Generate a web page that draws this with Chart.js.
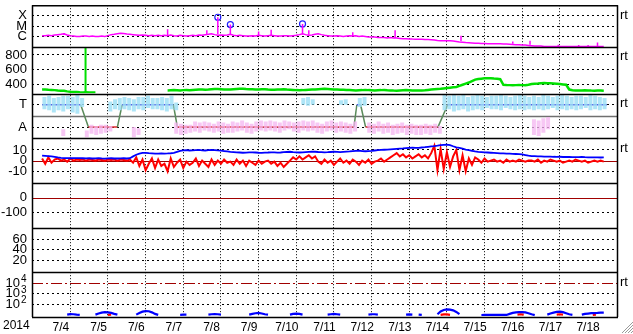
<!DOCTYPE html>
<html><head><meta charset="utf-8">
<script src="https://cdn.jsdelivr.net/npm/chart.js@4.4.1/dist/chart.umd.min.js"></script>
<style>html,body{margin:0;padding:0;background:#fff;overflow:hidden}#wrap{width:633px;height:334px;position:relative}canvas{display:block}</style>
</head><body><div id="wrap"><canvas id="c" width="633" height="334"></canvas></div>
<script>
// ---------- DATA ----------
const yearLabel = '2014';
const dayLabels = ['7/4','7/5','7/6','7/7','7/8','7/9','7/10','7/11','7/12','7/13','7/14','7/15','7/16','7/17','7/18'];
const spanHours = 360;           // 2014-07-04 00UT .. 07-19 00UT

// X-ray flux, 2-hourly, in units of C1 (1e-6 W/m2)
const xrayFlux = [
 1.2,1.2,1.3,1.2,1.4,1.5,1.6,1.8,1.4,1.2,1.1,1.0,
 1.0,1.1,1.1,1.0,1.1,1.0,1.0,1.1,1.0,1.2,1.5,1.6,
 1.8,2.0,1.9,1.7,1.6,1.5,1.4,1.3,1.4,1.3,1.2,1.3,
 1.2,1.3,1.2,1.3,1.2,1.4,1.2,1.1,1.3,1.2,1.1,1.2,
 1.3,1.2,1.4,1.3,1.5,1.6,1.8,1.5,1.3,1.4,1.3,1.4,
 1.6,1.3,1.2,1.3,1.2,1.1,1.1,1.2,1.1,1.3,1.2,1.1,
 1.2,1.3,1.2,1.1,1.1,1.2,1.2,1.1,1.2,1.3,1.5,1.8,
 1.5,1.3,1.4,1.6,1.8,1.5,1.3,1.2,1.1,1.1,1.2,1.1,
 1.0,1.1,1.2,1.1,1.2,1.0,1.1,1.0,0.9,0.9,0.9,0.8,
 0.8,0.8,0.7,0.8,0.7,0.7,0.65,0.6,0.6,0.58,0.56,0.55,
 0.55,0.54,0.52,0.5,0.48,0.45,0.42,0.4,0.4,0.39,0.38,0.36,
 0.33,0.3,0.28,0.26,0.25,0.24,0.23,0.22,0.21,0.21,0.2,0.2,
 0.2,0.2,0.2,0.19,0.19,0.18,0.17,0.16,0.16,0.15,0.15,0.14,
 0.13,0.12,0.12,0.12,0.11,0.11,0.11,0.11,0.11,0.11,0.11,0.11,
 0.11,0.11,0.11,0.11,0.11,0.11,0.11,0.11,0.11,0.11,0.11,0.11
];
// short flare spikes: [hour, pre-flare flux, peak flux] (C1 units)
const flareSpikes = [
 [14,1.4,2.2],[80,1.2,5],[105,1.4,4],[112,1.6,70],[120,1.5,14],[138,1.1,3],[146,1.1,4.5],
 [166,1.6,16],[170,1.5,4],[198,1.1,2.5],[225,0.7,4],[267,0.35,1.2],[300,0.2,0.33],
 [311,0.16,0.4],[329,0.11,0.16],[342,0.11,0.15],[348,0.11,0.15],[354,0.11,0.27]
];
// flare events marked with a circle: [hour, peak flux]
const flareMarks = [[112,70],[120,14],[166,16]];

// solar wind speed km/s, 2-hourly
const windSpeed = [
 330,332,328,325,322,318,315,312,305,300,298,295,
 292,290,292,290,289,290,null,null,null,null,null,null,
 null,null,null,null,null,null,null,null,null,null,null,null,
 null,null,null,null,318,320,322,320,318,322,325,322,
 325,328,330,332,328,330,335,338,336,334,332,330,
 332,335,338,340,342,338,335,333,330,332,335,333,
 330,328,326,330,332,335,330,328,325,322,320,322,
 325,328,330,332,335,338,340,338,335,332,330,328,
 326,324,322,320,318,320,322,325,322,320,318,320,
 322,325,320,318,316,315,318,320,322,320,318,317,
 317,318,320,325,330,335,338,340,345,350,355,360,
 365,380,395,410,425,445,465,472,478,482,485,483,
 480,478,470,395,392,390,388,390,392,390,388,395,
 405,410,412,415,418,416,414,412,410,405,400,395,
 330,320,318,316,318,320,318,316,315,318,316,314
];
const windSpike = [27.7, 292, 1000];   // [hour, from, to]

// IMF sector: +1 = Toward, -1 = Away
const sectorHours = [0,24.6,29.5,48,51,83.7,86.2,198.8,200.6,203,206.2,252.3,258.5,360];
const sectorSign  = [1,1,-1,-1,1,1,-1,-1,1,1,-1,-1,1,1];
// IMF direction spread, 3-hourly, sector units
const towardLow = [
 0.6,0.5,0.3,0.5,0.4,0.6,0.3,0.2,  0.8,null,null,null,null,null,0.4,0.6,
 0.5,0.6,0.5,0.4,0.6,0.5,0.7,0.6,  0.6,0.5,0.4,0.6,0.5,null,null,null,
 null,null,null,null,null,null,null,null,  null,null,null,null,null,null,null,null,
 null,null,null,null,null,null,null,1.0,  0.9,1.0,null,null,null,null,null,1.0,
 1.0,null,null,0.8,0.9,null,null,null,  null,null,null,null,null,null,null,null,
 null,null,null,null,null,0.5,0.6,0.4,  0.5,0.6,0.4,0.5,0.6,0.5,0.7,0.6,
 0.6,0.5,0.7,0.6,0.5,0.6,0.5,0.6,  0.5,0.6,0.5,0.6,0.7,0.5,0.6,0.5,
 0.6,0.5,0.6,0.7,0.5,0.6,0.5,0.6
];
const towardHigh = [
 1.7,1.8,1.6,1.7,1.8,1.8,1.7,1.9,  1.6,null,null,null,null,null,1.3,1.5,
 1.6,1.7,1.6,1.5,1.7,1.7,1.8,1.6,  1.6,1.7,1.6,1.8,1.2,null,null,null,
 null,null,null,null,null,null,null,null,  null,null,null,null,null,null,null,null,
 null,null,null,null,null,null,null,1.6,  1.7,1.5,null,null,null,null,null,1.4,
 1.5,null,null,1.6,1.7,null,null,null,  null,null,null,null,null,null,null,null,
 null,null,null,null,null,1.9,1.8,1.9,  1.8,1.9,1.7,1.8,1.9,1.8,1.7,1.8,
 1.8,1.9,1.8,1.7,1.8,1.9,1.8,1.7,  1.8,1.7,1.9,1.8,1.7,1.8,1.9,1.8,
 1.7,1.8,1.8,1.7,1.9,1.8,1.7,1.6
];
const awayLow = [
 null,null,null,null,-1.8,null,null,null,  null,-1.9,-1.6,-1.7,-1.6,-1.5,-1.4,null,
 null,null,null,-1.9,-1.7,null,null,null,  null,null,null,null,-1.6,-1.7,-1.6,-1.5,
 -1.4,-1.5,-1.3,-1.4,-1.5,-1.4,-1.6,-1.5,  -1.5,-1.4,-1.3,-1.5,-1.6,-1.4,-1.3,-1.4,
 -1.3,-1.4,-1.5,-1.3,-1.2,-1.4,-1.5,-1.3,  -1.4,-1.3,-1.5,-1.6,-1.4,-1.3,-1.5,-1.4,
 -1.5,-1.6,-1.4,null,null,-1.5,-1.6,-1.4,  -1.6,-1.5,-1.7,-1.6,-1.5,-1.7,-1.6,-1.7,
 -1.7,-1.6,-1.7,-1.5,-1.6,null,null,null,  null,null,null,null,null,null,null,null,
 null,null,null,null,null,null,null,null,  -1.7,-1.8,-1.5,-1.2,null,null,null,null,
 null,null,null,null,null,null,null,null
];
const awayHigh = [
 null,null,null,null,-1.2,null,null,null,  null,-1.3,-0.8,-0.9,-0.8,-0.8,-0.9,null,
 null,null,null,-1.0,-1.1,null,null,null,  null,null,null,null,-0.6,-0.7,-0.8,-0.8,
 -0.5,-0.6,-0.5,-0.6,-0.7,-0.5,-0.6,-0.7,  -0.5,-0.6,-0.4,-0.6,-0.7,-0.5,-0.4,-0.5,
 -0.4,-0.5,-0.6,-0.4,-0.5,-0.6,-0.5,-0.4,  -0.5,-0.4,-0.6,-0.7,-0.5,-0.4,-0.6,-0.5,
 -0.6,-0.7,-0.5,null,null,-0.6,-0.7,-0.5,  -0.7,-0.6,-0.8,-0.7,-0.6,-0.8,-0.7,-0.8,
 -0.8,-0.7,-0.8,-0.7,-0.9,null,null,null,  null,null,null,null,null,null,null,null,
 null,null,null,null,null,null,null,null,  -0.3,-0.4,-0.2,-0.1,null,null,null,null,
 null,null,null,null,null,null,null,null
];

// IMF |B| and Bz (nT), 2-hourly
const imfBt = [
 4.6,4.4,4.2,4.0,3.5,3.0,2.6,2.4,2.3,2.2,2.3,2.4,
 2.3,2.2,2.1,2.2,2.0,2.1,2.2,2.0,1.9,2.1,2.2,2.0,
 2.0,2.1,2.2,2.0,2.3,4.0,5.5,6.5,7.2,7.3,7.0,6.8,
 6.6,6.5,6.8,6.6,6.7,6.9,7.2,8.2,9.2,9.6,9.8,9.5,
 9.6,9.8,10,9.7,9.5,9.8,10.1,9.9,9.6,9.4,9.0,8.6,
 8.2,8.0,7.8,7.6,7.4,7.5,7.7,7.8,7.6,7.4,7.3,7.5,
 7.6,7.8,7.7,7.5,7.6,7.9,8.1,8.3,8.0,7.8,7.6,7.8,
 8.0,8.2,8.4,8.3,8.1,8.0,7.8,7.9,8.1,8.3,8.2,8.0,
 8.2,8.4,8.6,8.9,9.1,9.3,9.0,8.8,9.0,9.2,9.5,9.8,
 10,10.2,10.4,10.6,10.8,11,11.2,11.4,11.8,12,12.2,12.0,
 12,12.3,12.6,13,13.4,13.6,14,14.5,14.8,15,14.6,13.5,
 12.5,12,11.2,10.4,9.8,9.2,8.6,8.2,8.0,7.8,7.6,7.4,
 7.2,7.0,6.8,6.8,6.6,6.5,6.4,6.2,6.0,5.8,5.2,4.6,
 4.3,4.2,4.0,3.9,3.8,3.7,3.8,3.6,3.5,3.6,3.4,3.5,
 3.4,3.3,3.2,3.3,3.4,3.2,3.1,3.0,3.1,3.0,2.9,3.0
];
const imfBz = [
 2,-3,3,-2,1,2,0,1,-1,2,0,1,
 0.5,1,0,1,0.5,0,1,0.5,0,1,0.5,1,
 0,1,0.5,0,1,-2,3,-5,1,-9,-3,2,
 -7,1,-5,-3,-10,2,-6,-2,1,-7,-1,-4,
 -2,2,-5,0,-3,-6,1,-4,0,-3,1,-2,
 -1,-4,1,-3,0,-5,0,-2,-4,0,-3,-1,
 0,-3,-1,-5,-2,-6,-3,0,3,1,4,1,
 3,5,2,4,-1,-3,1,-2,0,-4,-1,2,
 -2,0,-3,1,-1,-4,0,-2,1,-3,-1,0,
 2,-1,1,3,5,7,4,6,3,5,2,4,
 6,3,5,2,7,14,-9,11,-8,8,-6,4,
 10,-9,5,-10,2,-4,3,1,-2,2,-1,0,
 1,-1,0,-2,1,-1,0,-1,1,0,-1,0,
 0,-1,1,-2,0,-1,1,0,-1,0,-2,-1,
 0,-1,1,0,-1,0,-2,-1,0,-1,0,-1
];

// >2 MeV electron flux, 2-hourly (values under the axis floor are absent)
const electronFlux = [
 10.5,null,null,null,null,null,null,null,11,12.5,12,11,
 10.5,null,null,null,null,11,14,17,19,18,16,13,
 11,null,null,null,null,null,11,16,21,24,23,18,
 13,10.5,null,null,null,null,null,null,10.5,11,11,null,
 null,null,null,null,null,11,12,12.5,12,11,null,null,
 null,null,null,null,null,null,11,13,15,16,14,12,
 11,null,null,null,null,null,null,11,13,14,13,11,
 null,null,null,null,null,null,null,11,12,13,12,11,
 null,null,null,null,null,null,null,null,11,12,12,11,
 null,null,null,null,null,null,null,null,11,11.5,11,null,
 11,10.3,null,null,null,null,12,22,30,35,33,28,
 20,12,null,null,null,null,null,null,10.2,10.3,10.3,10.3,
 10.3,10.3,10.3,10.3,10.3,13,16,18,19,19,18,15,
 12,10,null,null,null,11,14,17,20,21,19,15,
 12,10.5,null,null,11,13,14,15,15.5,16,17,17
];
// higher-energy channel, short bursts [hour, flux]
const electronHighHours = [42,44,null,254,256,258,260,null,303,305,307,null,328,330,332,null,351,353];
const electronHighFlux  = [10.5,11,null,10.5,11.5,11.5,10.5,null,11,12,11,null,11,12,11,null,10.5,11];

// ---------- BUILD ----------
const FONT = "'Liberation Sans', Arial, sans-serif";
const series = (arr, step) => arr.map((v,i)=>({x:i*step, y:v}));
const ranges = (lo, hi, step) => lo.map((v,i)=> v==null?null:{x:i*step+step/2, y:[v, hi[i]]}).filter(Boolean);
const pairs = (xs, ys) => xs.map((x,i)=> x==null?{x:NaN,y:null}:{x:x,y:ys[i]});

const flareData = [];
flareSpikes.forEach(f=>{ flareData.push({x:f[0],y:f[1]},{x:f[0],y:f[2]},{x:f[0],y:null}); });

const SECT_BLUE='#3a3ae0', SECT_RED='#e02a2a', SECT_GREEN='#5a8a5a';

const datasets = [
 {type:'bar', yAxisID:'ySec', data:ranges(towardLow,towardHigh,3), backgroundColor:'rgba(160,224,246,0.85)', borderWidth:0, barPercentage:0.85, categoryPercentage:1, grouped:false},
 {type:'bar', yAxisID:'ySec', data:ranges(awayLow,awayHigh,3), backgroundColor:'rgba(244,180,240,0.75)', borderWidth:0, barPercentage:0.85, categoryPercentage:1, grouped:false},
 {yAxisID:'ySec', data:pairs(sectorHours,sectorSign), borderWidth:1.5, borderColor:SECT_GREEN,
  segment:{borderColor:c=> (c.p0.parsed.y===1&&c.p1.parsed.y===1)?SECT_BLUE:((c.p0.parsed.y===-1&&c.p1.parsed.y===-1)?SECT_RED:SECT_GREEN)}},
 {yAxisID:'yX', data:series(xrayFlux,2), borderColor:'#ff00ff', borderWidth:1.5},
 {yAxisID:'yX', data:flareData, borderColor:'#ff00ff', borderWidth:1.5, spanGaps:false},
 {yAxisID:'yX', data:flareMarks.map(m=>({x:m[0],y:m[1]})), showLine:false, pointRadius:3, pointBorderColor:'#2020ff', pointBackgroundColor:'rgba(0,0,0,0)', pointBorderWidth:1.2},
 {yAxisID:'yV', data:series(windSpeed,2), borderColor:'#00e000', borderWidth:2.5, spanGaps:false},
 {yAxisID:'yV', data:[{x:windSpike[0],y:windSpike[1]},{x:windSpike[0],y:windSpike[2]}], borderColor:'#00e000', borderWidth:2},
 {yAxisID:'yB', data:series(imfBt,2), borderColor:'#0000ff', borderWidth:1.8},
 {yAxisID:'yB', data:series(imfBz,2), borderColor:'#ff0000', borderWidth:2},
 {yAxisID:'yE', data:series(electronFlux,2), borderColor:'#0000ff', borderWidth:2.2, spanGaps:false},
 {yAxisID:'yE', data:pairs(electronHighHours,electronHighFlux), borderColor:'#ff0000', borderWidth:2.2, spanGaps:false}
];

// reference lines (value on the given axis)
const refLines = [
 {axis:'ySec', value:0, color:'#707070', dash:[], width:1.5},
 {axis:'yB', value:0, color:'#a00000', dash:[], width:1.2},
 {axis:'yDst', value:0, color:'#a00000', dash:[], width:1.2},
 {axis:'yE', value:1e4, color:'#a00000', dash:[11,3,2,3], width:1.2}
];
const eTickExp = {100:'2',1000:'3',10000:'4'};

function yAxis(order, weight, extra, tickVals, labelFn, hidden, pad){
  return Object.assign({
    position:'left', stack:'panels', stackWeight:weight, weight:order,
    afterFit:s=>{s.width=32; s.paddingTop=0; s.paddingBottom=0;},
    afterBuildTicks:s=>{s.ticks=tickVals.map(v=>({value:v}));},
    grid:{drawTicks:false, lineWidth:1, color:c=> (c.tick && hidden && hidden.includes(c.tick.value))?'rgba(0,0,0,0)':'#000'},
    border:{display:false, dash:[2,3]},
    ticks:{autoSkip:false, color:'#000', padding:pad||5, font:{family:FONT,size:13}, callback:labelFn||(v=>String(v))}
  }, extra);
}

const scales = {
  x:{type:'linear', min:0, max:spanHours, position:'bottom',
     afterFit:s=>{s.height=17; s.paddingLeft=0; s.paddingRight=0;},
     afterBuildTicks:s=>{const t=[];for(let h=12;h<spanHours;h+=12)t.push({value:h});s.ticks=t;},
     grid:{drawTicks:false, lineWidth:1, color:c=> (c.tick && c.tick.value%24===0)?'#000':'rgba(0,0,0,0)'},
     border:{display:false, dash:[1,2]},
     ticks:{autoSkip:false, maxRotation:0, color:'#000', padding:3, font:{family:FONT,size:12},
            callback:v=> (v%24===12)? dayLabels[(v-12)/24] : ''}},
  yX: yAxis(70,42,{type:'logarithmic',min:0.1,max:1000},[1,10,100],v=>({1:'C',10:'M',100:'X'})[v]||''),
  yV: yAxis(60,47,{type:'linear',min:275,max:910},[400,600,800]),
  ySec: yAxis(50,45,{type:'linear',min:-2,max:2},[-1,1],v=>v===1?'T':(v===-1?'A':'')),
  yB: yAxis(40,45,{type:'linear',min:-21,max:21},[-10,0,10],null,[0]),
  yDst: yAxis(30,45,{type:'linear',min:-200,max:100},[-100,0],null,[0]),
  yKp: yAxis(20,45,{type:'linear',min:-2.4,max:81.6},[20,40,60]),
  yE: yAxis(10,45,{type:'logarithmic',min:6.6,max:107000},[100,1000,10000],v=>eTickExp[v]?'10':'',[10000],12)
};

const panelClip = {
  id:'panelClip',
  beforeDatasetDraw(chart,args){
    const ds=chart.data.datasets[args.index]; const ys=chart.scales[ds.yAxisID]; const a=chart.chartArea;
    const ctx=chart.ctx; ctx.save(); ctx.beginPath(); ctx.rect(a.left, ys.top, a.right-a.left, ys.bottom-ys.top); ctx.clip();
  },
  afterDatasetDraw(chart){ chart.ctx.restore(); }
};
const refPlugin = {
  id:'refs',
  beforeDatasetsDraw(chart){
    const ctx=chart.ctx, a=chart.chartArea;
    refLines.forEach(r=>{
      const y=Math.round(chart.scales[r.axis].getPixelForValue(r.value))+0.5;
      ctx.save(); ctx.strokeStyle=r.color; ctx.lineWidth=r.width; ctx.setLineDash(r.dash);
      ctx.beginPath(); ctx.moveTo(a.left,y); ctx.lineTo(a.right,y); ctx.stroke(); ctx.restore();
    });
  }
};
const framePlugin = {
  id:'frame',
  afterDraw(chart){
    const ctx=chart.ctx, a=chart.chartArea;
    ctx.save(); ctx.strokeStyle='#000'; ctx.lineWidth=1.5; ctx.setLineDash([]);
    ctx.beginPath();
    ctx.moveTo(a.left+0.5,a.top); ctx.lineTo(a.left+0.5,a.bottom);
    ctx.moveTo(a.right+0.5,a.top); ctx.lineTo(a.right+0.5,a.bottom);
    ctx.moveTo(a.left,a.top+0.5); ctx.lineTo(a.right+1,a.top+0.5);
    ['yX','yV','ySec','yB','yDst','yKp','yE'].forEach(id=>{
      const yb=Math.round(chart.scales[id].bottom)+0.5;
      ctx.moveTo(a.left,yb); ctx.lineTo(a.right+1,yb);
    });
    ctx.stroke();
    ctx.fillStyle='#000'; ctx.font='13px '+FONT; ctx.textBaseline='middle'; ctx.textAlign='left';
    ['yX','yV','ySec','yB','yE'].forEach(id=>{ ctx.fillText('rt', a.right+3, chart.scales[id].top+10); });
    // exponents of the electron-flux tick labels
    const ye=chart.scales.yE; ctx.font='10px '+FONT;
    Object.keys(eTickExp).forEach(v=>{ ctx.fillText(eTickExp[v], 21, ye.getPixelForValue(+v)-4); });
    ctx.font='12px '+FONT;
    ctx.fillText(yearLabel, 3, a.bottom+9);
    // window resize grip
    ctx.strokeStyle='#9a9a9a'; ctx.lineWidth=1;
    for(let k=0;k<4;k++){ ctx.beginPath(); ctx.moveTo(633, 322+k*3); ctx.lineTo(622+k*3, 333); ctx.stroke(); }
    ctx.restore();
  }
};

new Chart(document.getElementById('c'), {
  type:'line',
  data:{datasets},
  options:{
    responsive:false, animation:false, devicePixelRatio:1,
    layout:{padding:{left:0,right:16,top:3,bottom:0}},
    plugins:{legend:{display:false}, tooltip:{enabled:false}},
    elements:{point:{radius:0}, line:{tension:0}},
    scales
  },
  plugins:[panelClip, refPlugin, framePlugin]
});
</script></body></html>
